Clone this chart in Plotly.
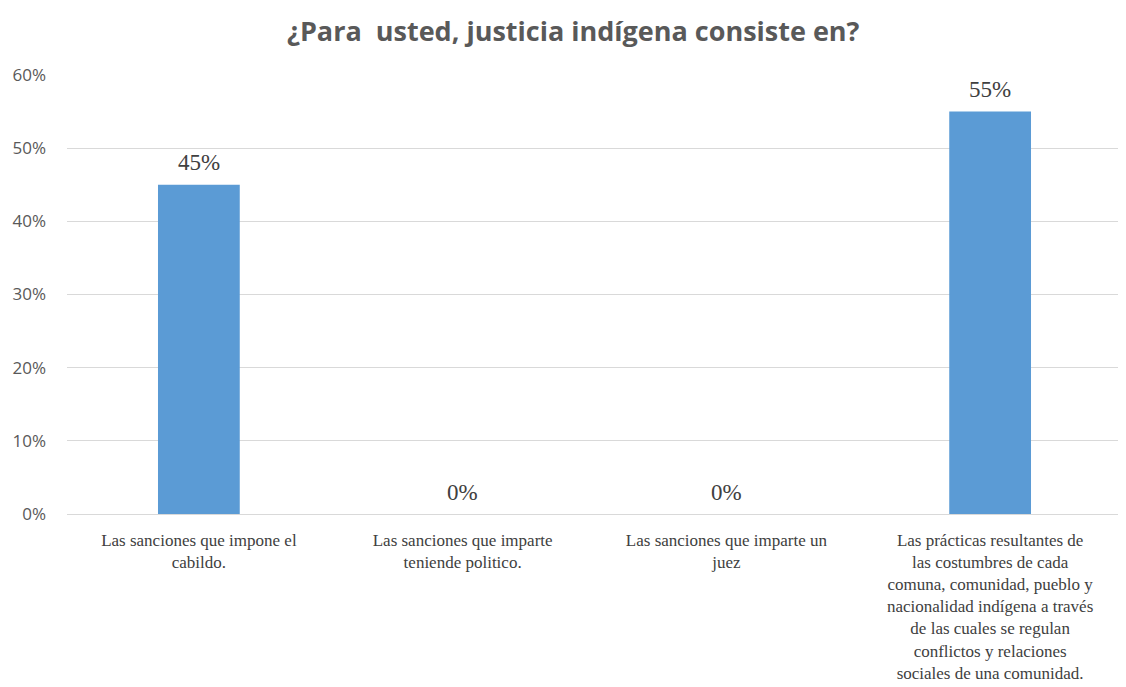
import plotly.graph_objects as go

categories = [
    "Las sanciones que impone el<br>cabildo.",
    "Las sanciones que imparte<br>teniende politico.",
    "Las sanciones que imparte un<br>juez",
    "Las prácticas resultantes de<br>las costumbres de cada<br>comuna, comunidad, pueblo y<br>nacionalidad indígena a través<br>de las cuales se regulan<br>conflictos y relaciones<br>sociales de una comunidad.",
]
values = [0.45, 0.0, 0.0, 0.55]
y_ticks = [0, 0.1, 0.2, 0.3, 0.4, 0.5, 0.6]
title_text = "¿Para  usted, justicia indígena consiste en?"

serif = "Liberation Serif, Times New Roman, serif"

fig = go.Figure()
fig.add_trace(go.Bar(
    x=categories,
    y=values,
    marker=dict(color="#5B9BD5", line=dict(width=0)),
    cliponaxis=False,
    hoverinfo="skip",
))

for c, v in zip(categories, values):
    fig.add_annotation(
        x=c, y=v, xref="x", yref="y",
        text=f"{v:.0%}", showarrow=False,
        yanchor="middle", xanchor="center", yshift=22,
        font=dict(family=serif, size=23, color="#404040"),
    )

fig.update_layout(
    width=1126, height=687,
    paper_bgcolor="white", plot_bgcolor="white",
    margin=dict(l=59, r=12, t=67, b=181, autoexpand=False),
    bargap=0.69,
    showlegend=False,
    title=dict(
        text=title_text,
        x=0.502, xanchor="center", y=0.965, yanchor="middle",
        font=dict(family="Open Sans", size=27, color="#595959", weight="bold"),
    ),
    xaxis=dict(
        showgrid=False, showline=False, ticks="",
        tickangle=0, automargin=False,
        ticklabelstandoff=14,
        tickfont=dict(family=serif, size=17, color="#404040"),
    ),
    yaxis=dict(
        range=[0, 0.6],
        tickvals=y_ticks,
        tickformat=".0%",
        automargin=False,
        showgrid=True, gridcolor="#D9D9D9", gridwidth=1,
        zeroline=True, zerolinecolor="#D9D9D9", zerolinewidth=1,
        showline=False, ticks="",
        ticklabelstandoff=20,
        tickfont=dict(family="Open Sans", size=17, color="#595959"),
    ),
)

fig.write_html("out.html")
